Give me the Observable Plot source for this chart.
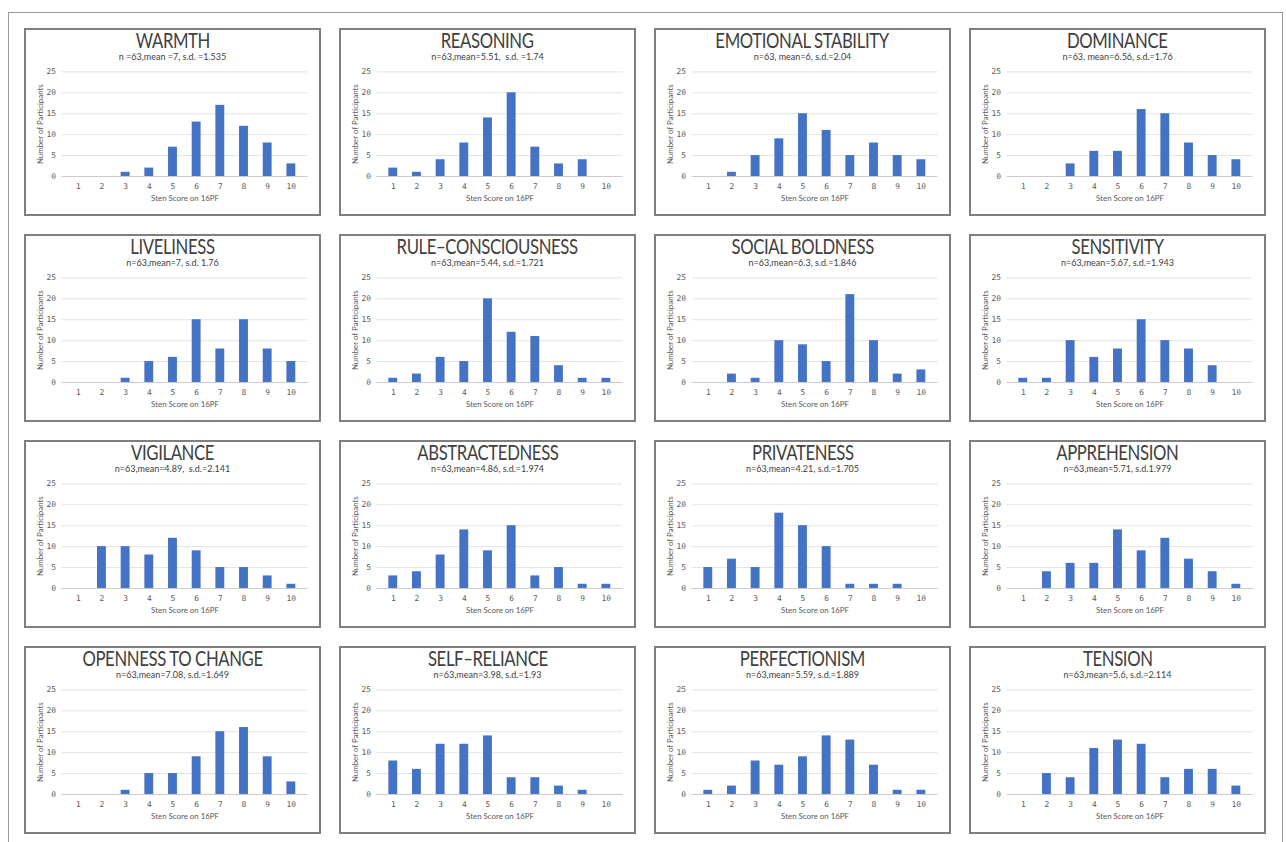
<!DOCTYPE html>
<html>
<head>
<meta charset="utf-8">
<script src="https://cdn.jsdelivr.net/npm/d3@7"></script>
<script src="https://cdn.jsdelivr.net/npm/@observablehq/plot@0.6"></script>
<style>
  html, body { margin: 0; padding: 0; background: #fff; overflow: hidden; }
  #frame { position: absolute; left: 8px; top: 12px; width: 1275px; height: 900px; border: 1.5px solid #9a9a9a; box-sizing: border-box; }
  .panel { position: absolute; width: 297px; height: 188px; border: 2px solid #7f7f7f; box-sizing: border-box; background: #fff; }
  .panel svg { position: absolute; left: -2px; top: -2px; }
  .title { position: absolute; left: -2px; width: 297px; top: -2px; text-align: center; height: 24px; line-height: 24px; }
  .title span { display: inline-block; font-family: Lato, "Open Sans", sans-serif; font-size: 22px; color: #404040; letter-spacing: -0.5px; transform: scaleX(0.76); transform-origin: center; white-space: nowrap; }
  .sub { position: absolute; left: -2px; width: 297px; top: 21px; text-align: center; font-family: Lato, sans-serif; font-size: 9px; line-height: 12px; color: #404040; white-space: pre; }
</style>
</head>
<body>
<div id="frame"></div>
<div id="root"></div>
<script>
const scores = [1, 2, 3, 4, 5, 6, 7, 8, 9, 10];
const yTicks = [0, 5, 10, 15, 20, 25];

const titles = [
  "WARMTH", "REASONING", "EMOTIONAL STABILITY", "DOMINANCE",
  "LIVELINESS", "RULE–CONSCIOUSNESS", "SOCIAL BOLDNESS", "SENSITIVITY",
  "VIGILANCE", "ABSTRACTEDNESS", "PRIVATENESS", "APPREHENSION",
  "OPENNESS TO CHANGE", "SELF–RELIANCE", "PERFECTIONISM", "TENSION"
];
const subtitles = [
  "n =63,mean =7, s.d. =1.535", "n=63,mean=5.51,  s.d. =1.74", "n=63, mean=6, s.d.=2.04", "n=63, mean=6.56, s.d.=1.76",
  "n=63,mean=7, s.d. 1.76", "n=63,mean=5.44, s.d.=1.721", "n=63,mean=6.3, s.d.=1.846", "n=63,mean=5.67, s.d.=1.943",
  "n=63,mean=4.89,  s.d.=2.141", "n=63,mean=4.86, s.d.=1.974", "n=63,mean=4.21, s.d.=1.705", "n=63,mean=5.71, s.d.1.979",
  "n=63,mean=7.08, s.d.=1.649", "n=63,mean=3.98, s.d.=1.93", "n=63,mean=5.59, s.d.=1.889", "n=63,mean=5.6, s.d.=2.114"
];

const warmth             = [0, 0, 1, 2, 7, 13, 17, 12, 8, 3];
const reasoning          = [2, 1, 4, 8, 14, 20, 7, 3, 4, 0];
const emotionalStability = [0, 1, 5, 9, 15, 11, 5, 8, 5, 4];
const dominance          = [0, 0, 3, 6, 6, 16, 15, 8, 5, 4];
const liveliness         = [0, 0, 1, 5, 6, 15, 8, 15, 8, 5];
const ruleConsciousness  = [1, 2, 6, 5, 20, 12, 11, 4, 1, 1];
const socialBoldness     = [0, 2, 1, 10, 9, 5, 21, 10, 2, 3];
const sensitivity        = [1, 1, 10, 6, 8, 15, 10, 8, 4, 0];
const vigilance          = [0, 10, 10, 8, 12, 9, 5, 5, 3, 1];
const abstractedness     = [3, 4, 8, 14, 9, 15, 3, 5, 1, 1];
const privateness        = [5, 7, 5, 18, 15, 10, 1, 1, 1, 0];
const apprehension       = [0, 4, 6, 6, 14, 9, 12, 7, 4, 1];
const opennessToChange   = [0, 0, 1, 5, 5, 9, 15, 16, 9, 3];
const selfReliance       = [8, 6, 12, 12, 14, 4, 4, 2, 1, 0];
const perfectionism      = [1, 2, 8, 7, 9, 14, 13, 7, 1, 1];
const tension            = [0, 5, 4, 11, 13, 12, 4, 6, 6, 2];

const series = [
  warmth, reasoning, emotionalStability, dominance,
  liveliness, ruleConsciousness, socialBoldness, sensitivity,
  vigilance, abstractedness, privateness, apprehension,
  opennessToChange, selfReliance, perfectionism, tension
];

const root = document.getElementById("root");
const colX = [24, 339, 654, 969];
const rowY = [28, 234, 440, 646];

series.forEach((vals, i) => {
  const data = scores.map((s, j) => ({score: s, count: vals[j]}));
  const panel = document.createElement("div");
  panel.className = "panel";
  panel.style.left = colX[i % 4] + "px";
  panel.style.top = rowY[Math.floor(i / 4)] + "px";

  const chart = Plot.plot({
    width: 297,
    height: 188,
    marginLeft: 38,
    marginRight: 9.5,
    marginTop: 44,
    marginBottom: 38,
    style: {background: "transparent", fontFamily: "'DejaVu Sans Mono', monospace", fontSize: "8px", color: "#595959"},
    x: {type: "band", domain: scores, paddingInner: 0.64, paddingOuter: 0.32},
    y: {domain: [0, 25]},
    marks: [
      Plot.ruleY(yTicks.filter(d => d > 0), {stroke: "#e3e3e3", strokeWidth: 1}),
      Plot.ruleY([0], {stroke: "#c8c8c8", strokeWidth: 1}),
      Plot.barY(data, {x: "score", y: "count", fill: "#4472C4"}),
      Plot.axisX({tickSize: 0, tickPadding: 7, label: null, fill: "#595959"}),
      Plot.axisY({ticks: yTicks, tickSize: 0, tickPadding: 6, label: null, fill: "#595959"}),
      Plot.text(["Sten Score on 16PF"], {frameAnchor: "bottom", lineAnchor: "middle", dy: 22, fontFamily: "Lato, sans-serif", fontSize: 8, fill: "#595959"}),
      Plot.text(["Number of Participants"], {frameAnchor: "left", textAnchor: "middle", lineAnchor: "middle", rotate: -90, dx: -22, fontFamily: "Lato, sans-serif", fontSize: 8, fill: "#595959"})
    ]
  });
  panel.appendChild(chart);

  const t = document.createElement("div");
  t.className = "title";
  const ts = document.createElement("span");
  ts.textContent = titles[i];
  t.appendChild(ts);
  panel.appendChild(t);

  const s = document.createElement("div");
  s.className = "sub";
  s.textContent = subtitles[i];
  panel.appendChild(s);

  root.appendChild(panel);
});
</script>
</body>
</html>
